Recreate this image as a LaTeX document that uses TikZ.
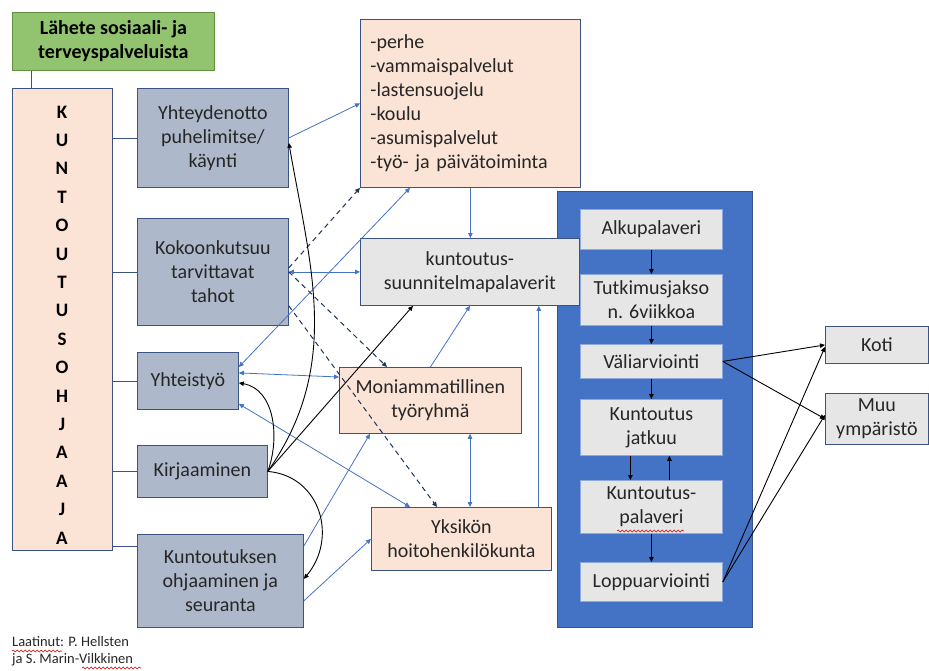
\documentclass[tikz,border=0pt]{standalone}
\usepackage{fontspec}
\setmainfont{Carlito}
\usetikzlibrary{arrows.meta,decorations.pathmorphing}
\definecolor{reuna}{HTML}{3B5284}
\definecolor{vihrea}{HTML}{92C46F}
\definecolor{vihreareuna}{HTML}{5F8F3F}
\definecolor{persikka}{HTML}{FBE4D5}
\definecolor{harmaansininen}{HTML}{ADB9CA}
\definecolor{vaaleanharmaa}{HTML}{E7E6E6}
\definecolor{paneelisin}{HTML}{4472C4}
\definecolor{vaihereuna}{HTML}{8EA9DB}
\definecolor{nuoli}{HTML}{4472C4}
\definecolor{katko}{HTML}{1F3458}
\definecolor{tumma}{HTML}{262626}
\newcommand{\teksti}{\fontsize{20pt}{24pt}\selectfont}
\newcommand{\kirjain}{\fontsize{19pt}{28.4pt}\selectfont\bfseries}
\newcommand{\pieni}{\fontsize{14.5pt}{17pt}\selectfont}

\begin{document}
\begin{tikzpicture}[x=1pt, y=-1pt,
    karki/.tip={Triangle[length=5pt,width=4.5pt]},
    laatikko/.style={draw=reuna, line width=0.8pt, anchor=north west, inner sep=0pt, align=center, font=\teksti, text=tumma},
    lahetebox/.style={laatikko, draw=vihreareuna, fill=vihrea, font=\teksti\bfseries, text=black},
    tahobox/.style={laatikko, fill=harmaansininen},
    listabox/.style={laatikko, fill=persikka},
    harmaabox/.style={laatikko, fill=vaaleanharmaa},
    vaihebox/.style={laatikko, draw=vaihereuna, fill=vaaleanharmaa, minimum width=142pt},
    sininen/.style={draw=nuoli, line width=0.8pt, -karki},
    molemmat/.style={draw=nuoli, line width=0.8pt, karki-karki},
    katkoviiva/.style={draw=katko, line width=1pt, dash pattern=on 5pt off 4pt, -karki},
    musta/.style={draw=black, line width=0.9pt, -karki},
    yhdys/.style={draw=reuna, line width=0.8pt},
    punainen/.style={draw=red!85!black, line width=0.6pt, decorate, decoration={snake, amplitude=0.9pt, segment length=4pt}}]
    \useasboundingbox (0,0) rectangle (929,670);

    % Left column
    \node[lahetebox, minimum width=202pt, minimum height=58pt] (lahete) at (12,12) {Lähete sosiaali- ja\\terveyspalveluista};
    \node[listabox, minimum width=100pt, minimum height=462pt] (ohjaaja) at (12,88) {};
    \node[font=\kirjain, align=center, text=black] (kirjaimet) at (62,325) {K\\U\\N\\T\\O\\U\\T\\U\\S\\O\\H\\J\\A\\A\\J\\A};

    \node[tahobox, minimum width=151pt, minimum height=99pt] (yhteys) at (137,88) {Yhteydenotto\\puhelimitse/\\käynti};
    \node[tahobox, minimum width=151pt, minimum height=107pt] (kokoon) at (137,218) {Kokoonkutsuu\\tarvittavat\\tahot};
    \node[tahobox, minimum width=101pt, minimum height=57pt] (yhteistyo) at (137,352) {Yhteistyö};
    \node[tahobox, minimum width=130pt, minimum height=52pt] (kirjaus) at (137,445) {Kirjaaminen};
    \node[tahobox, minimum width=166pt, minimum height=93pt] (seuranta) at (137,534) {Kuntoutuksen\\ohjaaminen ja\\seuranta};

    % Process panel (under the planning box)
    \node[laatikko, fill=paneelisin, minimum width=195pt, minimum height=436pt] (paneeli) at (557,191) {};

    % Middle column
    \node[listabox, minimum height=168pt, text width=200pt, inner xsep=10pt, align=left] (tahot) at (360,19) {-perhe\\-vammaispalvelut\\-lastensuojelu\\-koulu\\-asumispalvelut\\-työ- ja päivätoiminta};
    \node[harmaabox, minimum width=219pt, minimum height=67pt] (suunnitelma) at (360,238) {kuntoutus-\\suunnitelmapalaverit};
    \node[listabox, minimum width=182pt, minimum height=66pt] (tyoryhma) at (339,367) {Moniammatillinen\\työryhmä};
    \node[listabox, minimum width=180pt, minimum height=63pt] (hoito) at (371,507) {Yksikön\\hoitohenkilökunta};

    % Process steps
    \node[vaihebox, minimum height=40pt] (alku) at (580,209) {Alkupalaveri};
    \node[vaihebox, minimum height=51pt] (tutkimus) at (580,274) {Tutkimusjakso\\n. 6viikkoa};
    \node[vaihebox, minimum height=34pt] (vali) at (580,344) {Väliarviointi};
    \node[vaihebox, minimum height=56pt] (jatkuu) at (580,399) {Kuntoutus\\jatkuu};
    \node[vaihebox, minimum height=53pt] (palaveri) at (580,480) {Kuntoutus-\\palaveri};
    \node[vaihebox, minimum height=39pt] (loppu) at (580,562) {Loppuarviointi};

    \node[harmaabox, minimum width=103pt, minimum height=37pt] (koti) at (825,326) {Koti};
    \node[harmaabox, minimum width=103pt, minimum height=51pt] (muu) at (825,393) {Muu\\ympäristö};

    \node[anchor=north west, font=\pieni, align=left, inner sep=0pt, text=tumma] (laatija) at (12,636) {Laatinut: P. Hellsten\\ja S. Marin-Vilkkinen};

    % Plain links from the counsellor
    \draw[yhdys] ([xshift=19pt]lahete.south west) -- ([xshift=19pt]ohjaaja.north west);
    \draw[yhdys] (yhteys.west -| ohjaaja.east) -- (yhteys.west);
    \draw[yhdys] (kokoon.west -| ohjaaja.east) -- (kokoon.west);
    \draw[yhdys] (yhteistyo.west -| ohjaaja.east) -- (yhteistyo.west);
    \draw[yhdys] (kirjaus.west -| ohjaaja.east) -- (kirjaus.west);
    \draw[yhdys] ([yshift=-12pt]seuranta.north west -| ohjaaja.east) -- ([yshift=-12pt]seuranta.north west);

    % Blue arrows
    \draw[sininen] (yhteys.east) -- (tahot.west);
    \draw[molemmat] (kokoon.east) -- (kokoon.east -| suunnitelma.west);
    \draw[molemmat] ([yshift=-15pt]yhteistyo.north east) -- ([xshift=50pt]tahot.south west);
    \draw[molemmat] ([yshift=8pt]yhteistyo.east) -- ([yshift=-10pt]tyoryhma.north west);
    \draw[molemmat] ([yshift=6pt]yhteistyo.south east) -- ([xshift=39pt]hoito.north west);
    \draw[sininen] (tahot.south) -- (tahot.south |- suunnitelma.north);
    \draw[sininen] (tyoryhma.north) -- (suunnitelma.south);
    \draw[sininen] ([xshift=-13pt]hoito.north east) -- ([xshift=-13pt]hoito.north east |- suunnitelma.south);
    \draw[molemmat] ([xshift=131pt]tyoryhma.south west) -- ([xshift=131pt]tyoryhma.south west |- hoito.north);
    \draw[sininen] ([yshift=-12pt]seuranta.north east) -- ([xshift=31pt]tyoryhma.south west);
    \draw[sininen] ([yshift=-20pt]seuranta.east) -- (hoito.west);

    % Dashed arrows
    \draw[katkoviiva] ([yshift=4pt]kokoon.east) -- (tahot.south west);
    \draw[katkoviiva] (kokoon.east) -- ([xshift=48pt]tyoryhma.north west);
    \draw[katkoviiva] ([yshift=20pt]kokoon.south east) -- ([xshift=66pt]hoito.north west);

    % Black arrows from Kirjaaminen
    \draw[musta] (kirjaus.east) to[out=55, in=-80] ([yshift=-5pt]yhteys.east);
    \draw[musta] (kirjaus.east) to[out=70, in=-10] ([yshift=-2pt]yhteistyo.east);
    \draw[musta] (kirjaus.east) -- ([xshift=53pt]suunnitelma.south west);
    \draw[musta] (kirjaus.east) to[out=-5, in=50, looseness=1.2] ([yshift=2pt]seuranta.east);

    % Process arrows
    \draw[musta] (alku) -- (tutkimus);
    \draw[musta] (tutkimus) -- (vali);
    \draw[musta] (vali) -- (jatkuu);
    \draw[musta] ([xshift=-21pt]jatkuu.south) -- ([xshift=-21pt]palaveri.north);
    \draw[musta] ([xshift=18pt]palaveri.north) -- ([xshift=18pt]jatkuu.south);
    \draw[musta] (palaveri) -- (loppu);
    \draw[musta] (vali.east) -- (koti.west);
    \draw[musta] (vali.east) -- (muu.west);
    \draw[musta] (loppu.east) -- ([yshift=-2pt]koti.west);
    \draw[musta] (loppu.east) -- ([yshift=4pt]muu.west);

    % Spell-check marks
    \draw[punainen] (12,651) -- (62,651);
    \draw[punainen] (82,668) -- (141,668);
    \draw[punainen] (617,531) -- (684,531);
\end{tikzpicture}
\end{document}
